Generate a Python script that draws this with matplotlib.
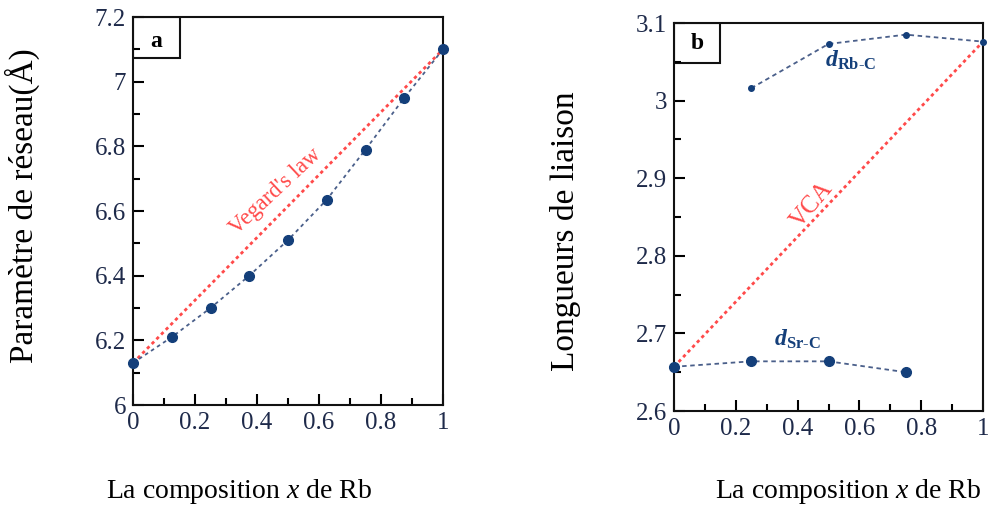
import numpy as np
import matplotlib as mpl
mpl.use('Agg')
from matplotlib import pyplot as plt
from matplotlib.ticker import MultipleLocator

#------------------- data ----------------------
x_a = [0, 0.125, 0.25, 0.375, 0.5, 0.625, 0.75, 0.875, 1.0]
a_lat = [6.13, 6.21, 6.30, 6.40, 6.51, 6.635, 6.79, 6.95, 7.10]
vegard_x = [0, 1]
vegard_y = [6.13, 7.10]

x_rbc = [0.25, 0.5, 0.75, 1.0]
d_rbc = [3.016, 3.073, 3.085, 3.076]
x_src = [0, 0.25, 0.5, 0.75]
d_src = [2.657, 2.664, 2.664, 2.650]
vca_x = [0, 1]
vca_y = [2.657, 3.076]

blue = '#143f7a'
line_blue = '#4a5f8a'
red = '#ff4a4a'
tick_col = '#1e2a4a'
serif = 'Liberation Serif'

plt.rcParams['font.family'] = serif
plt.rcParams['mathtext.fontset'] = 'custom'
plt.rcParams['mathtext.it'] = 'Liberation Serif:italic'
plt.rcParams['mathtext.rm'] = 'Liberation Serif'
plt.rcParams['mathtext.bf'] = 'Liberation Serif:bold'
plt.rcParams['mathtext.bfit'] = 'Liberation Serif:italic:bold'

fig = plt.figure(figsize=(9.88, 5.09), dpi=100)
W, H = 988, 509
ax1 = fig.add_axes([133/W, 1-405/H, 310/W, 388/H])
ax2 = fig.add_axes([674/W, 1-411/H, 309/W, 388/H])


def style(ax):
    for s in ax.spines.values():
        s.set_linewidth(1.5)
        s.set_color('#111111')
    ax.tick_params(which='major', direction='in', length=8, width=1.5,
                   labelsize=18, labelcolor=tick_col, pad=5)
    ax.tick_params(which='minor', direction='in', length=5, width=1.5)
    ax.xaxis.set_major_locator(MultipleLocator(0.2))
    ax.xaxis.set_minor_locator(MultipleLocator(0.1))
    ax.set_xlim(0, 1)
    fmt = mpl.ticker.FuncFormatter(lambda v, p: '%g' % round(v, 2))
    ax.xaxis.set_major_formatter(fmt)
    ax.yaxis.set_major_formatter(fmt)


#--------------------- panel a ------------------------
style(ax1)
ax1.set_ylim(6, 7.2)
ax1.yaxis.set_major_locator(MultipleLocator(0.2))
ax1.yaxis.set_minor_locator(MultipleLocator(0.1))
ax1.plot(vegard_x, vegard_y, ls=(0, (1.2, 1.2)), lw=2, color=red, zorder=2)
ax1.plot(x_a, a_lat, ls=(0, (2, 2)), lw=1.3, color=line_blue, marker='o',
         ms=7, mfc=blue, mec=blue, zorder=3, clip_on=False)
ax1.text(0.46, 6.66, "Vegard's law", color=red, fontsize=16.5, rotation=43,
         ha='center', va='center', rotation_mode='anchor')
ax1.text(0.075, 7.125, 'a', fontsize=17, fontweight='bold', ha='center', va='center')
ax1.add_patch(plt.Rectangle((0, 1-41/388), 47/310, 41/388, transform=ax1.transAxes,
                            fill=False, lw=1.5, ec='#111111'))
ax1.set_ylabel('Paramètre de réseau(Å)', fontsize=24)
ax1.yaxis.set_label_coords(-0.30, 0.515)

#--------------------- panel b ------------------------
style(ax2)
ax2.set_ylim(2.6, 3.1)
ax2.yaxis.set_major_locator(MultipleLocator(0.1))
ax2.yaxis.set_minor_locator(MultipleLocator(0.05))
ax2.plot(vca_x, vca_y, ls=(0, (1.2, 1.2)), lw=2, color=red, zorder=2)
ax2.plot(x_rbc, d_rbc, ls=(0, (2.5, 2)), lw=1.3, color=line_blue, marker='o',
         ms=4, mfc=blue, mec=blue, zorder=3, clip_on=False)
ax2.plot(x_src, d_src, ls=(0, (2.5, 2)), lw=1.3, color=line_blue, marker='o',
         ms=7, mfc=blue, mec=blue, zorder=3, clip_on=False)
ax2.text(0.447, 2.865, 'VCA', color=red, fontsize=18, rotation=50,
         ha='center', va='center', rotation_mode='anchor')
ax2.text(0.49, 3.052, r'$\mathbfit{d}_{\mathbf{Rb}\text{-}\mathbf{C}}$', color=blue,
         fontsize=17, ha='left', va='center')
ax2.text(0.325, 2.692, r'$\mathbfit{d}_{\mathbf{Sr}\text{-}\mathbf{C}}$', color=blue,
         fontsize=17, ha='left', va='center')
ax2.text(0.075, 3.074, 'b', fontsize=17, fontweight='bold', ha='center', va='center')
ax2.add_patch(plt.Rectangle((0, 1-40/388), 46/309, 40/388, transform=ax2.transAxes,
                            fill=False, lw=1.5, ec='#111111'))
ax2.set_ylabel('Longueurs de liaison', fontsize=24)
ax2.yaxis.set_label_coords(-0.30, 0.464)

#--------------------- x labels ------------------------
fig.text(239/W, 1-491/H, 'La composition $\\mathit{x}$ de Rb', fontsize=20,
         ha='center', va='center')
fig.text(848/W, 1-491/H, 'La composition $\\mathit{x}$ de Rb', fontsize=20,
         ha='center', va='center')

fig.savefig('out.png', dpi=100)
